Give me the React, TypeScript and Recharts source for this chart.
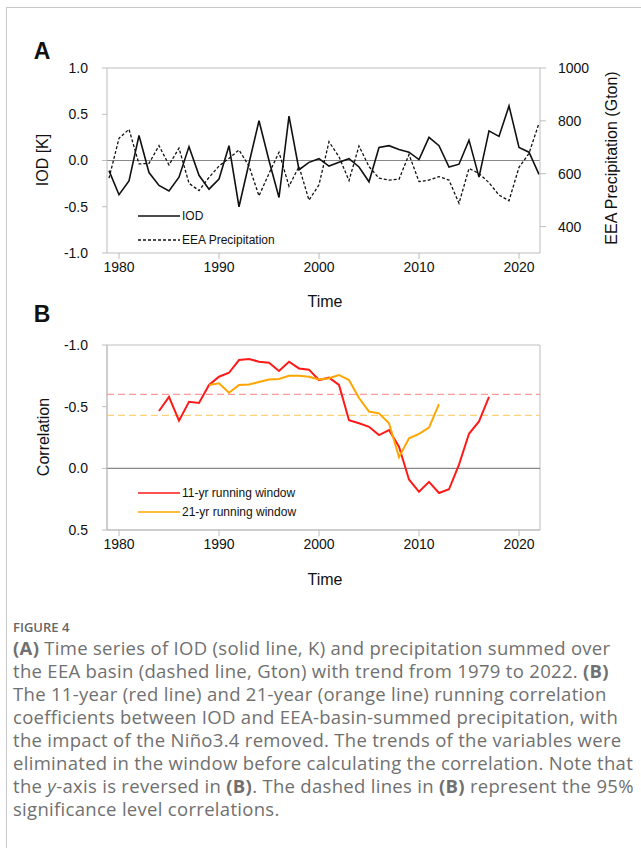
import React from 'react'
import { LineChart, Line, XAxis, YAxis, ReferenceLine, ReferenceArea } from 'recharts'

// Panel A: annual series 1979-2022
const yearsA = [
  1979, 1980, 1981, 1982, 1983, 1984, 1985, 1986, 1987, 1988, 1989, 1990, 1991, 1992, 1993,
  1994, 1995, 1996, 1997, 1998, 1999, 2000, 2001, 2002, 2003, 2004, 2005, 2006, 2007, 2008,
  2009, 2010, 2011, 2012, 2013, 2014, 2015, 2016, 2017, 2018, 2019, 2020, 2021, 2022,
]
const iod = [
  -0.11, -0.37, -0.22, 0.27, -0.13, -0.27, -0.33, -0.18, 0.15, -0.16, -0.31, -0.2, 0.16, -0.5, -0.03,
  0.43, 0.0, -0.4, 0.48, -0.1, -0.02, 0.02, -0.06, -0.02, 0.02, -0.07, -0.23, 0.14, 0.16, 0.12,
  0.09, 0.01, 0.25, 0.16, -0.07, -0.04, 0.22, -0.18, 0.32, 0.26, 0.59, 0.14, 0.09, -0.15,
]
const precip = [
  583, 734, 768, 637, 639, 706, 633, 697, 564, 536, 586, 629, 658, 690, 629,
  516, 601, 681, 553, 627, 500, 558, 721, 664, 574, 705, 627, 583, 576, 579,
  673, 570, 576, 589, 576, 488, 620, 601, 566, 519, 498, 624, 677, 791,
]

// Panel B: running correlations (window centre years)
const yearsB = [
  1984, 1985, 1986, 1987, 1988, 1989, 1990, 1991, 1992, 1993, 1994, 1995, 1996, 1997, 1998, 1999, 2000,
  2001, 2002, 2003, 2004, 2005, 2006, 2007, 2008, 2009, 2010, 2011, 2012, 2013, 2014, 2015, 2016, 2017,
]
const corr11 = [
  -0.465, -0.58, -0.386, -0.54, -0.53, -0.676, -0.743, -0.775, -0.878, -0.886, -0.865, -0.857, -0.79,
  -0.865, -0.81, -0.8, -0.716, -0.735, -0.676, -0.39, -0.365, -0.337, -0.27, -0.31, -0.175, 0.09, 0.19,
  0.11, 0.2, 0.17, -0.03, -0.28, -0.38, -0.58,
]
const yearsB21 = [
  1989, 1990, 1991, 1992, 1993, 1994, 1995, 1996, 1997, 1998, 1999, 2000,
  2001, 2002, 2003, 2004, 2005, 2006, 2007, 2008, 2009, 2010, 2011, 2012,
]
const corr21 = [
  -0.676, -0.69, -0.613, -0.676, -0.68, -0.7, -0.72, -0.725, -0.75, -0.75, -0.743, -0.72,
  -0.73, -0.757, -0.716, -0.57, -0.46, -0.446, -0.365, -0.09, -0.243, -0.28, -0.33, -0.52,
]
const sig11 = -0.6
const sig21 = -0.43

const xTicks = [1980, 1990, 2000, 2010, 2020]
const iodTicks = [-1, -0.5, 0, 0.5, 1]
const precipTicks = [400, 600, 800, 1000]
const corrTicks = [-1, -0.5, 0, 0.5]

const dataA = yearsA.map((year, i) => ({ year, iod: iod[i], precip: precip[i] }))
const dataB = yearsB.map((year, i) => {
  const j = yearsB21.indexOf(year)
  return { year, r11: corr11[i], r21: j >= 0 ? corr21[j] : null }
})

const FONT = '"Liberation Sans", Arial, Helvetica, sans-serif'
const FRAME = '#bdbdbd'
const tick = { fontSize: 14, fill: '#111', fontFamily: FONT }
const X_DOMAIN: [number, number] = [1978.8, 2022.1]

function Abs({ x, y, rotate, style, children }: any) {
  return (
    <div
      style={{
        position: 'absolute',
        left: x,
        top: y,
        transform: `translate(-50%, -50%)${rotate ? ` rotate(${rotate}deg)` : ''}`,
        whiteSpace: 'nowrap',
        fontFamily: FONT,
        color: '#111',
        ...style,
      }}
    >
      {children}
    </div>
  )
}

function LegendBox({ x, y, gap, items }: { x: number; y: number; gap: number; items: Array<{ label: string; color: string; dash?: string }> }) {
  return (
    <div style={{ position: 'absolute', left: x, top: y, fontFamily: FONT, fontSize: 12, color: '#111' }}>
      {items.map((it) => (
        <div key={it.label} style={{ display: 'flex', alignItems: 'center', height: gap }}>
          <svg width={42} height={6} style={{ marginRight: 2 }}>
            <line x1={0} y1={3} x2={42} y2={3} stroke={it.color} strokeWidth={it.dash ? 1.3 : 1.6} strokeDasharray={it.dash} />
          </svg>
          <span>{it.label}</span>
        </div>
      ))}
    </div>
  )
}

const captionLines = [
  [<b key="a">(A)</b>, ' Time series of IOD (solid line, K) and precipitation summed over'],
  ['the EEA basin (dashed line, Gton) with trend from 1979 to 2022. ', <b key="b">(B)</b>],
  ['The 11-year (red line) and 21-year (orange line) running correlation'],
  ['coefficients between IOD and EEA-basin-summed precipitation, with'],
  ['the impact of the Niño3.4 removed. The trends of the variables were'],
  ['eliminated in the window before calculating the correlation. Note that'],
  ['the ', <i key="y">y</i>, '-axis is reversed in ', <b key="b2">(B)</b>, '. The dashed lines in ', <b key="b3">(B)</b>, ' represent the 95%'],
  ['significance level correlations.'],
]

export default function App() {
  return (
    <div style={{ position: 'absolute', left: 0, top: 0, width: 641, height: 848, background: '#fff', overflow: 'hidden' }}>
      <div style={{ position: 'absolute', left: 6, top: 7, width: 640, height: 845, borderLeft: '1px solid #c8c8c8', borderTop: '1px solid #c8c8c8' }} />

      {/* Panel A */}
      <div style={{ position: 'absolute', left: 0, top: 0 }}>
        <LineChart width={641} height={320} data={dataA} margin={{ top: 68, right: 41, bottom: 37, left: 47 }}>
          <XAxis
            dataKey="year"
            type="number"
            domain={X_DOMAIN}
            ticks={xTicks}
            tick={tick}
            tickSize={6}
            tickMargin={3}
            height={30}
            stroke={FRAME}
            allowDataOverflow
          />
          <YAxis
            yAxisId="iod"
            domain={[-1, 1]}
            ticks={iodTicks}
            tickFormatter={(v: number) => v.toFixed(1)}
            tick={tick}
            tickSize={5}
            tickMargin={14}
            width={60}
            stroke={FRAME}
          />
          <YAxis
            yAxisId="precip"
            orientation="right"
            domain={[300, 1000]}
            ticks={precipTicks}
            tick={tick}
            tickSize={6}
            tickMargin={12}
            width={60}
            stroke={FRAME}
          />
          <ReferenceLine yAxisId="iod" y={1} stroke={FRAME} />
          <ReferenceLine yAxisId="iod" y={0} stroke="#888" strokeWidth={1.2} />
          <Line yAxisId="iod" dataKey="iod" stroke="#111" strokeWidth={1.6} dot={false} isAnimationActive={false} />
          <Line
            yAxisId="precip"
            dataKey="precip"
            stroke="#111"
            strokeWidth={1.3}
            strokeDasharray="3 2"
            dot={false}
            isAnimationActive={false}
          />
        </LineChart>
      </div>
      <LegendBox
        x={138}
        y={204}
        gap={24}
        items={[
          { label: 'IOD', color: '#111' },
          { label: 'EEA Precipitation', color: '#111', dash: '3 2' },
        ]}
      />

      {/* Panel B */}
      <div style={{ position: 'absolute', left: 0, top: 280 }}>
        <LineChart width={641} height={320} data={dataB} margin={{ top: 65, right: 101, bottom: 40, left: 47 }}>
          <XAxis
            dataKey="year"
            type="number"
            domain={X_DOMAIN}
            ticks={xTicks}
            tick={tick}
            tickSize={6}
            tickMargin={3}
            height={30}
            stroke={FRAME}
            allowDataOverflow
          />
          <YAxis
            domain={[-1, 0.5]}
            reversed
            ticks={corrTicks}
            tickFormatter={(v: number) => v.toFixed(1)}
            tick={tick}
            tickSize={5}
            tickMargin={14}
            width={60}
            stroke={FRAME}
          />
          <ReferenceArea x1={X_DOMAIN[0]} x2={X_DOMAIN[1]} y1={-1} y2={0.5} fill="none" stroke={FRAME} strokeWidth={1} />
          <ReferenceLine y={0} stroke="#888" strokeWidth={1.2} />
          <ReferenceLine y={sig11} stroke="#ff9a9a" strokeWidth={1.3} strokeDasharray="7 4" />
          <ReferenceLine y={sig21} stroke="#ffd27a" strokeWidth={1.3} strokeDasharray="7 4" />
          <Line dataKey="r11" stroke="#ff1a1a" strokeWidth={2} dot={false} isAnimationActive={false} />
          <Line dataKey="r21" stroke="#ffa500" strokeWidth={2} dot={false} connectNulls={false} isAnimationActive={false} />
        </LineChart>
      </div>
      <LegendBox
        x={138}
        y={483}
        gap={19}
        items={[
          { label: '11-yr running window', color: '#ff1a1a' },
          { label: '21-yr running window', color: '#ffa500' },
        ]}
      />

      {/* titles and panel letters */}
      <Abs x={42} y={51} style={{ fontSize: 23, fontWeight: 700 }}>A</Abs>
      <Abs x={42} y={314} style={{ fontSize: 23, fontWeight: 700 }}>B</Abs>
      <Abs x={43} y={160} rotate={-90} style={{ fontSize: 16 }}>IOD [K]</Abs>
      <Abs x={612} y={158} rotate={-90} style={{ fontSize: 16 }}>EEA Precipitation (Gton)</Abs>
      <Abs x={325} y={302} style={{ fontSize: 16 }}>Time</Abs>
      <Abs x={44} y={437} rotate={-90} style={{ fontSize: 16 }}>Correlation</Abs>
      <Abs x={325} y={580} style={{ fontSize: 16 }}>Time</Abs>

      {/* caption */}
      <div style={{ position: 'absolute', left: 13, top: 619, fontFamily: '"Open Sans", sans-serif', color: '#666', fontSize: 13, fontWeight: 600, lineHeight: '16px' }}>
        FIGURE 4
      </div>
      <div style={{ position: 'absolute', left: 13, top: 636, fontFamily: '"Open Sans", sans-serif', color: '#707070' }}>
        {captionLines.map((parts, i) => (
          <div key={i} style={{ fontSize: 18.5, letterSpacing: 0.3, lineHeight: '23px', whiteSpace: 'nowrap' }}>
            {parts}
          </div>
        ))}
      </div>
    </div>
  )
}
